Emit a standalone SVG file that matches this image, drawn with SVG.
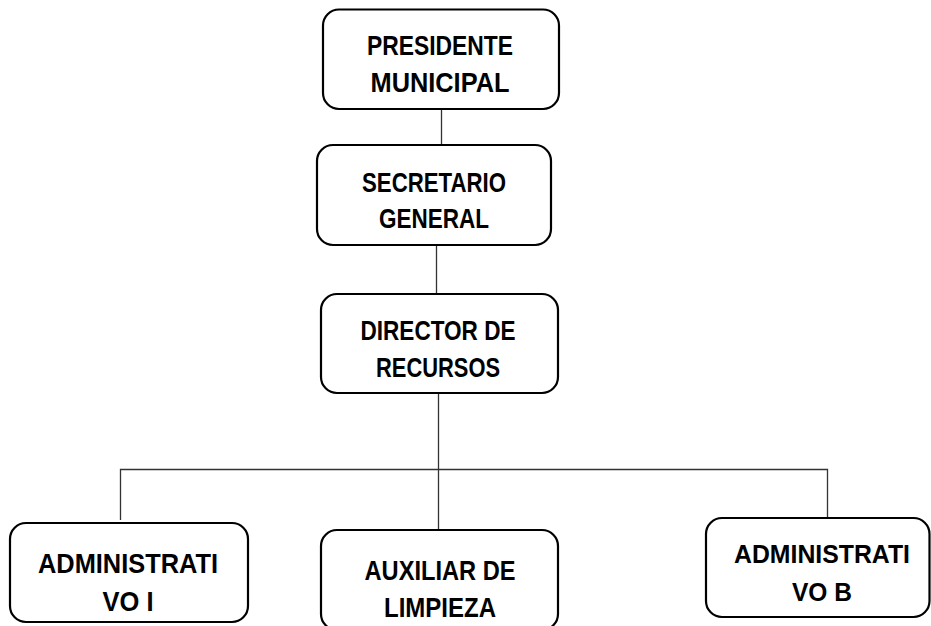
<svg xmlns="http://www.w3.org/2000/svg" width="931" height="626" viewBox="0 0 931 626">
<style>
.box{fill:#fff;stroke:#000;stroke-width:2.2}
.lbl{font-family:"Liberation Sans",Arial,sans-serif;font-weight:bold;font-size:28px;fill:#000;text-anchor:middle}
.sm{font-size:26px}
.con{stroke:#333;stroke-width:1.3;fill:none}
</style>
<rect width="931" height="626" fill="#fff"/>
<g id="connectors">
<line class="con" x1="441.5" y1="109" x2="441.5" y2="145"/>
<line class="con" x1="436.5" y1="245" x2="436.5" y2="294"/>
<line class="con" x1="438.5" y1="393" x2="438.5" y2="530"/>
<polyline class="con" points="120.5,520 120.5,469.5 827.5,469.5 827.5,517"/>
</g>
<g id="presidente">
<rect class="box" x="323" y="9.5" width="236" height="99.5" rx="16"/>
<text class="lbl" x="440" y="55" textLength="146" lengthAdjust="spacingAndGlyphs">PRESIDENTE</text>
<text class="lbl" x="440" y="92" textLength="139" lengthAdjust="spacingAndGlyphs">MUNICIPAL</text>
</g>
<g id="secretario">
<rect class="box" x="317" y="145" width="234" height="100" rx="16"/>
<text class="lbl" x="434" y="192" textLength="144" lengthAdjust="spacingAndGlyphs">SECRETARIO</text>
<text class="lbl" x="434" y="228" textLength="110" lengthAdjust="spacingAndGlyphs">GENERAL</text>
</g>
<g id="director">
<rect class="box" x="321" y="294" width="237" height="99" rx="16"/>
<text class="lbl" x="438" y="340" textLength="155" lengthAdjust="spacingAndGlyphs">DIRECTOR DE</text>
<text class="lbl" x="438" y="377" textLength="124" lengthAdjust="spacingAndGlyphs">RECURSOS</text>
</g>
<g id="administrativo-i">
<rect class="box" x="10" y="523" width="238" height="99" rx="16"/>
<text class="lbl" x="128" y="573" textLength="180" lengthAdjust="spacingAndGlyphs">ADMINISTRATI</text>
<text class="lbl" x="128" y="611" textLength="51" lengthAdjust="spacingAndGlyphs">VO I</text>
</g>
<g id="auxiliar">
<rect class="box" x="321" y="530" width="237" height="100" rx="16"/>
<text class="lbl" x="440" y="580" textLength="151" lengthAdjust="spacingAndGlyphs">AUXILIAR DE</text>
<text class="lbl" x="440" y="617" textLength="112" lengthAdjust="spacingAndGlyphs">LIMPIEZA</text>
</g>
<g id="administrativo-b">
<rect class="box" x="706" y="518" width="223.5" height="99" rx="16"/>
<text class="lbl sm" x="822" y="563" textLength="176" lengthAdjust="spacingAndGlyphs">ADMINISTRATI</text>
<text class="lbl sm" x="822" y="601" textLength="60" lengthAdjust="spacingAndGlyphs">VO B</text>
</g>
</svg>
